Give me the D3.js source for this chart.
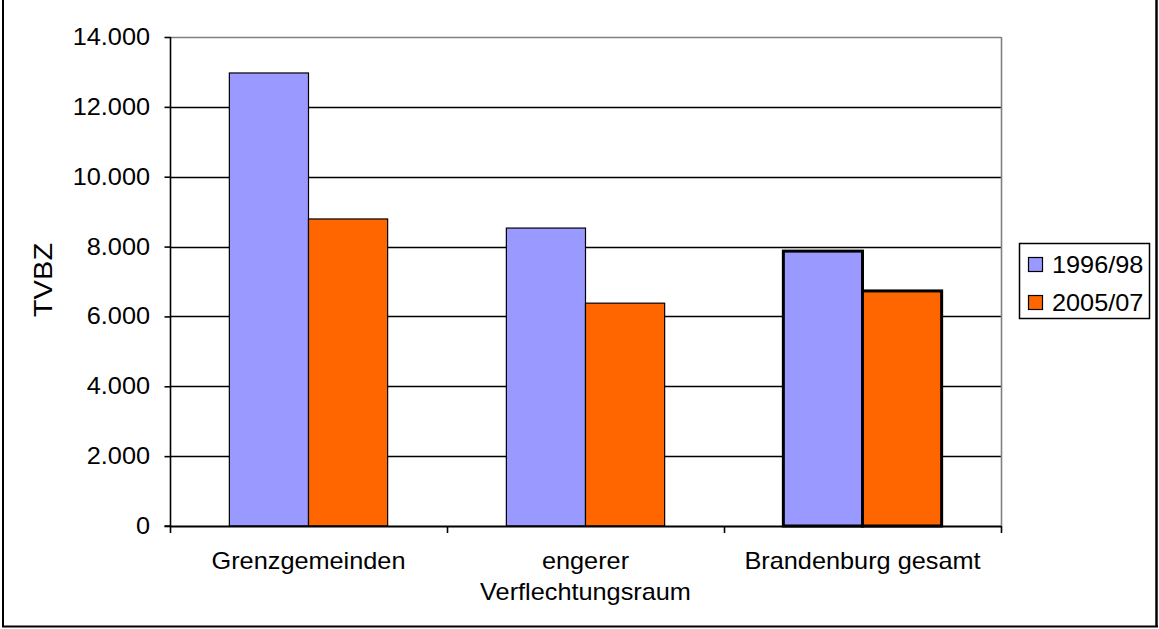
<!DOCTYPE html>
<html><head><meta charset="utf-8">
<script src="https://cdn.jsdelivr.net/npm/d3@7"></script>
<style>
html,body{margin:0;padding:0;background:#fff;}
text{font-family:"Liberation Sans",Arial,sans-serif;fill:#000;}
</style></head>
<body>
<svg id="c" width="1159" height="629"></svg>
<script>
const categories = [["Grenzgemeinden"], ["engerer", "Verflechtungsraum"], ["Brandenburg gesamt"]];
const seriesNames = ["1996/98", "2005/07"];
const values1996 = [12970, 8530, 7870];
const values2005 = [8790, 6380, 6730];
const yTicks = [0, 2000, 4000, 6000, 8000, 10000, 12000, 14000];
const yTickLabels = ["0", "2.000", "4.000", "6.000", "8.000", "10.000", "12.000", "14.000"];
const colors = ["#9999FF", "#FF6600"];
const highlight = [false, false, true];

const SX = 1.1; // horizontal glyph stretch of the original rendering
const FS = 23;

const svg = d3.select("#c");
// outer frame
svg.append("line").attr("x1",3).attr("x2",3).attr("y1",0).attr("y2",627).attr("stroke","#000").attr("stroke-width",2);
svg.append("line").attr("x1",1156.5).attr("x2",1156.5).attr("y1",0).attr("y2",627).attr("stroke","#000").attr("stroke-width",2.5);
svg.append("line").attr("x1",2).attr("x2",1158).attr("y1",626.5).attr("y2",626.5).attr("stroke","#000").attr("stroke-width",2);

const L = 170, R = 1001, T = 37, B = 526;
const catIdx = categories.map((d,i)=>i);
const x0 = d3.scaleBand().domain(catIdx).range([L, R]).paddingInner(0).paddingOuter(0);
// Excel gap width 150%: band = 2 bars + 1.5 bar gap
const bw = x0.bandwidth() / 3.5;
const y = d3.scaleLinear().domain([0, 14000]).range([B, T]);

function stext(g, x, yy, str, anchor, size) {
  return g.append("text")
    .attr("transform", `translate(${x},${yy}) scale(${SX},1)`)
    .attr("text-anchor", anchor).attr("font-size", size || FS).text(str);
}

// gridlines
svg.append("g").selectAll("line").data(yTicks.filter(v=>v>0)).join("line")
  .attr("x1", L).attr("x2", R)
  .attr("y1", d=>Math.round(y(d))+0.5).attr("y2", d=>Math.round(y(d))+0.5)
  .attr("stroke", d=> d===14000 ? "#808080" : "#000").attr("stroke-width", 1.6);
// plot area right border
svg.append("line").attr("x1",R+0.5).attr("x2",R+0.5).attr("y1",T).attr("y2",B).attr("stroke","#808080").attr("stroke-width",1.6);

// bars
const series = [values1996, values2005];
series.forEach((vals, s) => {
  svg.append("g").selectAll("rect").data(vals).join("rect")
    .attr("x", (d,i)=> x0(i) + bw*0.75 + s*bw)
    .attr("width", bw)
    .attr("y", d=> y(d))
    .attr("height", d=> B - y(d))
    .attr("fill", colors[s])
    .attr("stroke", "#000")
    .attr("stroke-width", (d,i)=> highlight[i] ? 3 : 1.2);
});

// y axis
const yAxis = d3.axisLeft(y).tickValues(yTicks).tickSize(6).tickFormat("");
const gy = svg.append("g").attr("transform",`translate(${L+0.5},0)`).call(yAxis);
gy.select(".domain").attr("stroke","#000").attr("stroke-width",1.6).attr("d",`M-6,${B}H0V${T}`);
gy.selectAll(".tick line").attr("stroke","#000").attr("stroke-width",1.6);
const gyl = svg.append("g");
yTicks.forEach((v,i)=> stext(gyl, 150, y(v) + 8, yTickLabels[i], "end"));

// x axis
svg.append("line").attr("x1",L).attr("x2",R).attr("y1",B+0.5).attr("y2",B+0.5).attr("stroke","#000").attr("stroke-width",1.8);
const bounds = [0,1,2,3].map(i=> L + i*x0.bandwidth());
svg.append("g").selectAll("line").data(bounds).join("line")
  .attr("x1", d=>d+0.5).attr("x2", d=>d+0.5).attr("y1", B).attr("y2", B+7)
  .attr("stroke","#000").attr("stroke-width",1.6);

const gx = svg.append("g");
categories.forEach((lines, i) => {
  lines.forEach((ln, j) => stext(gx, x0(i) + x0.bandwidth()/2, 569 + j*31, ln, "middle"));
});

// y title
svg.append("text").attr("transform","translate(52,280) rotate(-90) scale(1.12,1)")
  .attr("text-anchor","middle").attr("font-size",26).text("TVBZ");

// legend
const lg = svg.append("g");
lg.append("rect").attr("x",1019.5).attr("y",243.5).attr("width",130).attr("height",75)
  .attr("fill","#fff").attr("stroke","#000").attr("stroke-width",1.5);
seriesNames.forEach((n, i) => {
  lg.append("rect").attr("x",1028.5).attr("y",257.5 + i*38).attr("width",14).attr("height",14)
    .attr("fill",colors[i]).attr("stroke","#000").attr("stroke-width",1.2);
  stext(lg, 1052, 273 + i*38, n, "start");
});
</script>
</body></html>
